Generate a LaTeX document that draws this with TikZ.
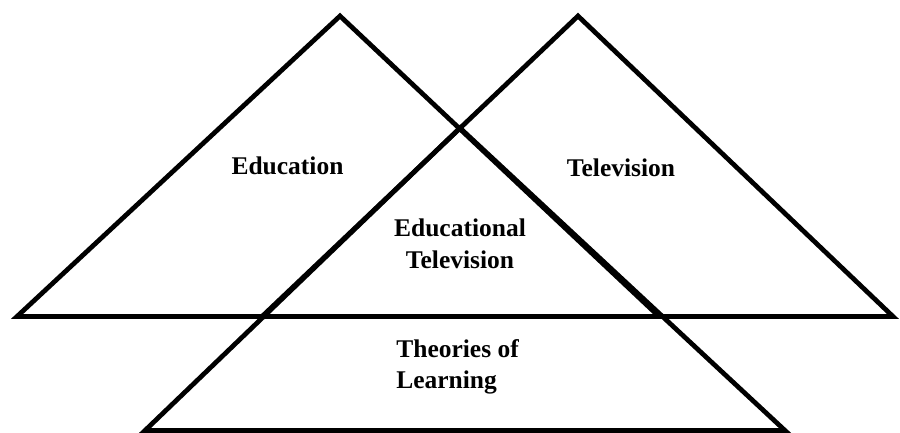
\documentclass[tikz,border=0pt]{standalone}
\usepackage{fontspec}
\setmainfont{Liberation Serif}
\usetikzlibrary{calc}
\tikzstyle{field}=[draw, line width=2.7pt, line join=miter]
\tikzstyle{fieldname}=[inner sep=0pt, align=center,
  font=\fontsize{14.5pt}{18pt}\selectfont\bfseries]

\begin{document}
\begin{tikzpicture}
  \useasboundingbox (0,0) rectangle (18,8.66);

  \coordinate (edu) at (6.80,8.34);
  \coordinate (tv) at (11.56,8.34);
  \coordinate (learn) at (9.20,6.10);

  \draw[field] (edu) -- (0.34,2.33) -- (13.18,2.33) -- cycle;
  \draw[field] (tv) -- (5.24,2.33) -- (17.86,2.33) -- cycle;
  \draw[field] (learn) -- (2.90,0.05) -- (15.70,0.05) -- cycle;

  \path(edu)+(-1.05,-3.18) node(edutext)[fieldname,anchor=base]{Education};
  \path(tv)+(0.86,-3.22) node(tvtext)[fieldname,anchor=base]{Television};
  \path(learn)+(0,-2.31) node(edtvtext)[fieldname]{
    Educational\\
    Television
  };
  \path(learn)+(-1.28,-4.78) node(theorytext)[fieldname,align=left,anchor=west]{
    Theories of\\
    Learning
  };
\end{tikzpicture}
\end{document}
